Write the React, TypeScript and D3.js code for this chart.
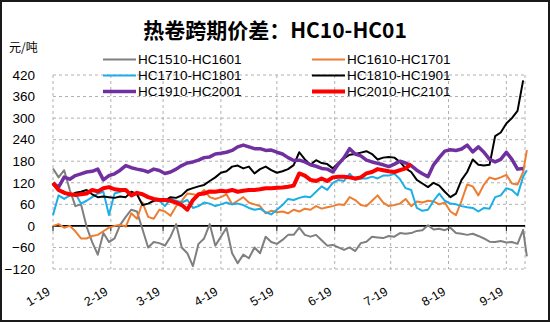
import React from 'react';
import * as d3 from 'd3';

// day offsets from 2019-01-01 (trading-day samples)
const days: number[] = [...d3.range(0, 253, 3), 254];

const hc1510: (number | null)[] = [
  160, 135, 155, 100, 55, 60, -2, -45, -80, -20,
  -45, -35, 3, 25, 45, 40, -10, -60, -45, -48,
  -55, -30, 5, -60, -76, -112, -50, -35, 5, -55,
  -30, -5, -76, -104, -80, -90, -60, -76, -30, -45,
  -50, -39, -25, -25, -5, -25, -30, -25, -40, -55,
  -53, -60, -67, -60, -70, -48, -44, -30, -32, -34,
  -28, -30, -20, -22, -20, -14, -12, 2, -10, -8,
  -12, -5, -20, -22, -25, -22, -28, -35, -44, -45,
  -42, -46, -45, -50, -11, -85,
];

const hc1610: (number | null)[] = [
  0, 5, -5, 0, -15, -35, -35, -28, -25, -15,
  -5, 0, 3, -2, 35, 20, 65, 25, 20, 45,
  40, 28, 55, 70, 90, 88, 85, 100, 80, 75,
  80, 88, 60, 70, 80, 65, 60, 55, 35, 42,
  38, 40, 35, 45, 40, 48, 45, 55, 48, 52,
  55, 60, 58, 80, 72, 58, 55, 70, 85, 65,
  55, 58, 62, 75, 55, 68, 65, 70, 68, 60,
  65, 40, 30, 70, 115, 110, 85, 115, 135, 130,
  135, 142, 118, 115, 150, 211,
];

const hc1710: (number | null)[] = [
  30, 85, 75, 85, 90, 62, 70, 80, 90, 95,
  30, 90, 95, 100, 85, 90, 85, 80, 75, 70,
  55, 75, 70, 65, 72, 50, 55, 65, 62, 55,
  60, 65, 60, 62, 58, 50, 45, 48, 38, 32,
  45, 58, 75, 72, 78, 82, 80, 95, 110, 100,
  120, 128, 125, 145, 128, 132, 132, 137, 132, 140,
  140, 145, 130, 105, 100, 50, 42, 45, 70, 90,
  70, 62, 60, 55, 52, 50, 40, 50, 48, 80,
  85, 105, 100, 85, 137, 155,
];

const hc1810: (number | null)[] = [
  115, 100, 95, 85, 92, 95, 100, 88, 80, 82,
  80, 78, 82, 80, 95, 88, 58, 62, 70, 72,
  70, 80, 78, 85, 100, 105, 110, 114, 125, 135,
  148, 152, 165, 168, 160, 165, 146, 158, 165, 155,
  148, 152, 158, 169, 205, 185, 170, 183, 175, 172,
  160, 175, 188, 198, 200, 204, 208, 200, 185, 190,
  192, 190, 178, 160, 150, 128, 118, 108, 120, 112,
  95, 80, 90, 128, 150, 185, 170, 168, 170, 250,
  260, 285, 300, 320, 405, null,
];

const hc1910: (number | null)[] = [
  119, 108, 136, 130, 140, 145, 150, 152, 158, 128,
  140, 145, 155, 168, 162, 158, 155, 150, 158, 154,
  146, 150, 158, 168, 175, 178, 183, 190, 192, 200,
  202, 205, 210, 220, 225, 220, 215, 215, 210, 211,
  205, 200, 190, 182, 183, 178, 170, 166, 160, 158,
  150, 172, 190, 215, 200, 195, 183, 178, 174, 170,
  165, 172, 180, 175, 168, 155, 145, 137, 170, 190,
  208, 212, 210, 214, 225, 206, 220, 205, 185, 178,
  185, 205, 185, 158, 160, null,
];

const hc2010: (number | null)[] = [
  120, 100, 92, 88, 86, 88, 90, 100, 96, 105,
  108, 102, 100, 100, 85, 92, 88, 80, 75, 72,
  72, 70, 65, 58, 45, 72, 88, 90, 96, 95,
  98, 96, 100, 95, 98, 100, 100, 102, 105, 105,
  106, 107, 109, 112, 146, 140, 128, 125, 132, 125,
  135, 137, 137, 135, 132, 135, 146, 150, 158, 155,
  152, 150, 155, 160, 172, null, null, null, null, null,
  null, null, null, null, null, null, null, null, null, null,
  null, null, null, null, null, null,
];

const seriesNames = [
  'HC1510-HC1601',
  'HC1610-HC1701',
  'HC1710-HC1801',
  'HC1810-HC1901',
  'HC1910-HC2001',
  'HC2010-HC2101',
];
const seriesValues = [hc1510, hc1610, hc1710, hc1810, hc1910, hc2010];
const seriesColors = ['#7f7f7f', '#ed7d31', '#1daee6', '#000000', '#7030a0', '#ff0000'];
const seriesWidths = [2, 2, 2, 2, 3.5, 4];

const yTicks = [-120, -60, 0, 60, 120, 180, 240, 300, 360, 420];
const monthLabels = ['1-19', '2-19', '3-19', '4-19', '5-19', '6-19', '7-19', '8-19', '9-19'];
const monthDates = monthLabels.map((_, i) => new Date(Date.UTC(2019, i, 1)));

const W = 550;
const H = 322;

export default function App() {
  const x = d3
    .scaleUtc()
    .domain([new Date(Date.UTC(2019, 0, 1)), new Date(Date.UTC(2019, 8, 11))])
    .range([53, 525]);
  const y = d3.scaleLinear().domain([-120, 420]).range([269, 75]);
  const dateOf = (d: number) => new Date(Date.UTC(2019, 0, 1 + d));

  const line = d3
    .line<[number, number | null]>()
    .defined((p) => p[1] != null)
    .x((p) => x(dateOf(p[0])))
    .y((p) => y(p[1] as number));

  const [x0, x1] = x.range();
  const legendCols = [103, 312];
  const legendRows = [59.5, 75.5, 91.5];
  const font = "'Liberation Sans', Arial, sans-serif";

  return (
    <svg
      width={W}
      height={H}
      style={{ position: 'absolute', left: 0, top: 0, background: '#fff' }}
    >
      <rect x={0} y={0} width={W} height={H} fill="#fff" />
      {/* gridlines */}
      {yTicks
        .filter((t) => t !== 0)
        .map((t) => (
          <line
            key={'gy' + t}
            x1={x0}
            x2={x1}
            y1={y(t)}
            y2={y(t)}
            stroke="#b0b0b0"
            strokeWidth={1}
            strokeDasharray="3,3"
          />
        ))}
      {[...monthDates.map((d) => x(d)), x1].map((px, i) => (
        <line
          key={'gx' + i}
          x1={px}
          x2={px}
          y1={y(420)}
          y2={y(-120)}
          stroke="#b0b0b0"
          strokeWidth={1}
          strokeDasharray="3,3"
        />
      ))}
      {/* zero axis */}
      <line x1={x0} x2={x1} y1={y(0)} y2={y(0)} stroke="#000" strokeWidth={1.8} />
      {monthDates.map((d, i) => (
        <line
          key={'tk' + i}
          x1={x(d)}
          x2={x(d)}
          y1={y(0)}
          y2={y(0) + 5}
          stroke="#000"
          strokeWidth={1}
        />
      ))}
      {/* series */}
      {seriesValues.map((vals, si) => (
        <path
          key={'s' + si}
          d={line(days.map((d, i) => [d, vals[i]] as [number, number | null])) || ''}
          fill="none"
          stroke={seriesColors[si]}
          strokeWidth={seriesWidths[si]}
          strokeLinejoin="round"
        />
      ))}
      {/* y tick labels */}
      {yTicks.map((t) => (
        <text
          key={'yl' + t}
          x={35}
          y={y(t)}
          dy="0.35em"
          textAnchor="end"
          fontFamily={font}
          fontSize={13.5}
          fill="#000"
        >
          {t < 0 ? '\u2212' + Math.abs(t) : t}
        </text>
      ))}
      {/* x tick labels */}
      {monthDates.map((d, i) => (
        <text
          key={'xl' + i}
          transform={`translate(${x(d) - 2},${294}) rotate(-30)`}
          textAnchor="end"
          fontFamily={font}
          fontSize={12.5}
          fill="#000"
        >
          {monthLabels[i]}
        </text>
      ))}
      {/* unit */}
      <text x={9} y={52} fontFamily="'Noto Sans CJK SC', sans-serif" fontSize={12} fill="#000">
        元/吨
      </text>
      {/* title */}
      <text
        x={275}
        y={38}
        textAnchor="middle"
        fontFamily="'Noto Sans CJK SC', sans-serif"
        fontWeight="bold"
        fontSize={21}
        fill="#000"
      >
        热卷跨期价差：HC10-HC01
      </text>
      {/* legend */}
      {seriesNames.map((name, i) => {
        const cx = legendCols[i % 2];
        const cy = legendRows[Math.floor(i / 2)];
        return (
          <g key={'lg' + i}>
            <line
              x1={cx}
              x2={cx + 33}
              y1={cy}
              y2={cy}
              stroke={seriesColors[i]}
              strokeWidth={seriesWidths[i]}
            />
            <text x={cx + 35} y={cy} dy="0.36em" fontFamily={font} fontSize={13.5} fill="#000">
              {name}
            </text>
          </g>
        );
      })}
      {/* border */}
      <rect x={1} y={1} width={W - 2} height={H - 2} fill="none" stroke="#1a1a1a" strokeWidth={2} />
    </svg>
  );
}
